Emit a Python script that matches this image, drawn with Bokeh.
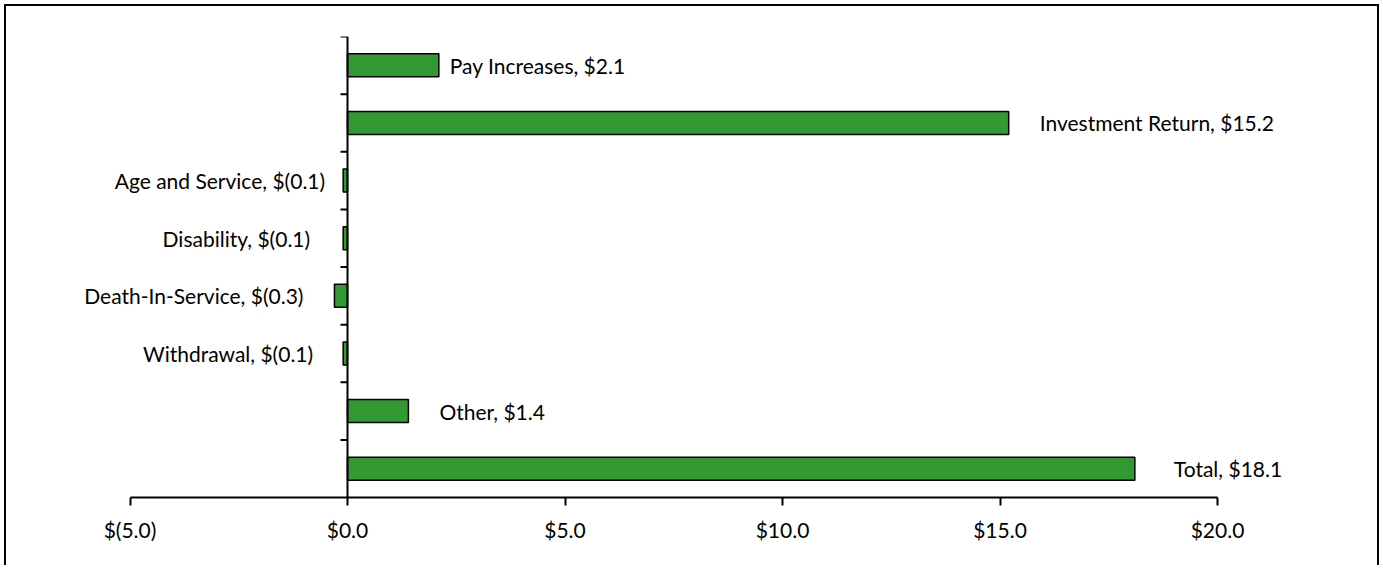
from bokeh.plotting import figure
from bokeh.models import FactorRange, Range1d, Span, ColumnDataSource, FixedTicker
from bokeh.core.properties import value
from bokeh.embed import file_html
from bokeh.resources import INLINE

# ---- data ----
categories = ["Pay Increases", "Investment Return", "Age and Service", "Disability",
              "Death-In-Service", "Withdrawal", "Other", "Total"]
amounts = [2.1, 15.2, -0.1, -0.1, -0.3, -0.1, 1.4, 18.1]
tick_values = [-5, 0, 5, 10, 15, 20]
tick_labels = ["$(5.0)", "$0.0", "$5.0", "$10.0", "$15.0", "$20.0"]

# label placement (screen px from bar end) -- style only
label_offsets = [11, 31, -18, -33, -31, -30, 31, 39]

def money(v):
    return f"$({abs(v):.1f})" if v < 0 else f"${v:.1f}"

labels = [f"{c}, {money(v)}" for c, v in zip(categories, amounts)]
aligns = ["left" if v >= 0 else "right" for v in amounts]

src = ColumnDataSource(dict(cat=categories, val=amounts, lab=labels,
                            off=label_offsets, align=aligns))

FONT = "Lato"
FS = "21px"

# layout: axis from tick_values[0] at px 129.5 to tick_values[-1] at px 1217;
# frame widened so that labels are not clipped
W, H = 1383, 571
ax_left_px, ax_right_px = 129.5, 1217.0
frame_left, frame_right = 30, 1350
ppu = (ax_right_px - ax_left_px) / (tick_values[-1] - tick_values[0])
x_start = tick_values[0] - (ax_left_px - frame_left) / ppu
x_end = tick_values[-1] + (frame_right - ax_right_px) / ppu

p = figure(width=W, height=H, output_backend="svg", toolbar_location=None,
           y_range=FactorRange(factors=list(reversed(categories)), range_padding=0),
           x_range=Range1d(x_start, x_end),
           min_border_left=frame_left, min_border_right=W - frame_right,
           min_border_top=36, min_border_bottom=H - 497)
p.styles = {"outline": "2px solid #000", "outline-offset": "-6px",
            "clip-path": "inset(0px 0px 6px 0px)", "background-color": "#ffffff"}
p.border_fill_color = None
p.background_fill_color = None
p.outline_line_color = None
p.xgrid.visible = False
p.ygrid.visible = False
p.yaxis.visible = False

p.hbar(y="cat", right="val", left=0, height=0.4, source=src,
       fill_color="#339933", line_color="#000000", line_width=1.5)

# vertical axis at zero with category boundary ticks
p.add_layout(Span(location=0, dimension="height", line_color="#000000", line_width=2))
bounds = list(range(1, len(categories) + 1))
p.ray(x=[0] * len(bounds), y=bounds, length=7, length_units="screen", angle=3.14159265,
      line_color="#000000", line_width=2)

p.text(x="val", y="cat", text="lab", x_offset="off", text_align="align",
       text_baseline="middle", source=src, text_font=value(FONT),
       text_font_size=FS, text_color="#000000")

ax = p.xaxis[0]
ax.bounds = (tick_values[0], tick_values[-1])
ax.ticker = FixedTicker(ticks=tick_values)
ax.major_label_overrides = {v: l for v, l in zip(tick_values, tick_labels)}
ax.axis_line_width = 2
ax.axis_line_color = "#000000"
ax.major_tick_line_width = 2
ax.major_tick_line_color = "#000000"
ax.major_tick_out = 8
ax.major_tick_in = 0
ax.minor_tick_line_color = None
ax.major_label_text_font = FONT
ax.major_label_text_font_size = FS
ax.major_label_text_color = "#000000"
ax.major_label_standoff = 11

open("out.html", "w").write(file_html(p, INLINE))
